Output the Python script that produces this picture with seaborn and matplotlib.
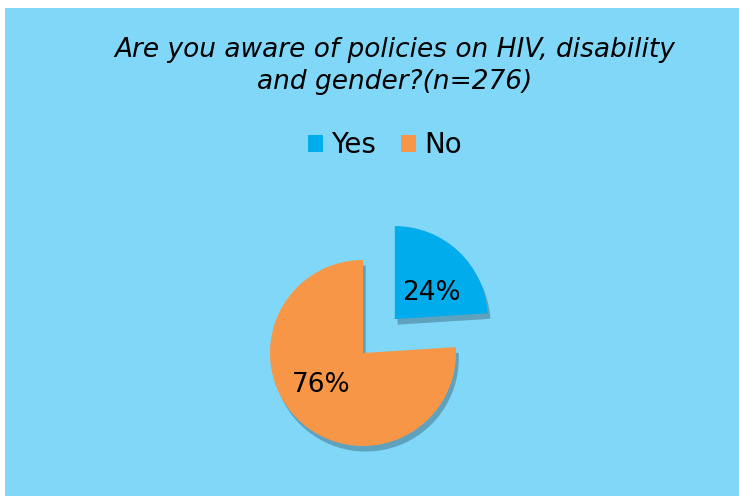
import matplotlib
matplotlib.use('Agg')
import matplotlib.pyplot as plt
import matplotlib.patheffects as pe
from matplotlib.patches import Rectangle
import seaborn as sns

# dados do grafico
respostas = ['Yes', 'No']
percentuais = [24, 76]
cores = ['#00ACEC', '#F79646']
titulo = 'Are you aware of policies on HIV, disability\nand gender?(n=276)'

sns.set_style('white')
plt.rcParams['font.family'] = ['DejaVu Sans']
plt.rcParams['text.color'] = 'black'

fig = plt.figure(figsize=(7.39, 4.96), dpi=100)
fig.patch.set_facecolor('white')
fig.patches.append(Rectangle((5 / 739, 0), 1, 1 - 8 / 496, transform=fig.transFigure,
                             facecolor='#81D7F8', edgecolor='none', zorder=-10))

# eixo quadrado, centro do pie em (363, 353) px, raio 93 px
S = 279
ax = fig.add_axes([(363 - S / 2) / 739, (143 - S / 2) / 496, S / 739, S / 496])
ax.set_facecolor('none')
wedges, textos, pcts = ax.pie(percentuais, colors=cores, startangle=90, counterclock=False,
                              explode=[0.5, 0], autopct='%d%%', pctdistance=0.52,
                              wedgeprops={'linewidth': 0, 'edgecolor': 'none'},
                              textprops={'fontsize': 19, 'color': 'black'})
for w in wedges:
    w.set_path_effects([pe.SimplePatchShadow(offset=(2, -4), shadow_rgbFace='#3d6f85', alpha=0.5),
                        pe.Normal()])
# ajuste fino dos rotulos
x, y = pcts[0].get_position()
pcts[0].set_position((x + 0.04, y - 0.1))
x, y = pcts[1].get_position()
pcts[1].set_position((x - 0.09, y + 0.03))
ax.set_xlim(-1.5, 1.5)
ax.set_ylim(-1.5, 1.5)
ax.set_aspect('equal')
ax.axis('off')

fig.text(395 / 739, 1 - 66 / 496, titulo, ha='center', va='center', fontsize=19,
         style='italic', linespacing=1.3, color='black')

handles = [Rectangle((0, 0), 1, 1, facecolor=c, edgecolor='none') for c in cores]
fig.legend(handles, respostas, loc='center', bbox_to_anchor=(385 / 739, 1 - 145 / 496),
           ncol=2, frameon=False, fontsize=20, handlelength=0.55, handleheight=0.55,
           handletextpad=0.3, columnspacing=0.9, labelcolor='black')

plt.savefig('out.png', dpi=100)
